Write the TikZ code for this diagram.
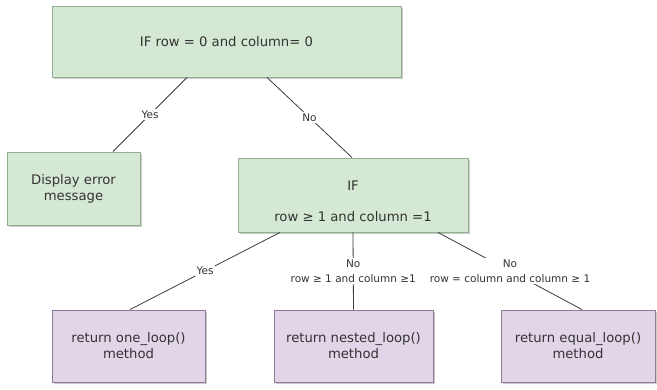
\documentclass[tikz,border=0pt]{standalone}
\usepackage{fontspec}
\setmainfont{DejaVu Sans}
\usetikzlibrary{shadows}
\definecolor{greenfill}{HTML}{D5E8D4}
\definecolor{greenline}{HTML}{93AE91}
\definecolor{purplefill}{HTML}{E1D5E7}
\definecolor{purpleline}{HTML}{8E7A99}
\definecolor{inkgray}{HTML}{333333}
\definecolor{wiregray}{HTML}{3C3C3C}
\begin{document}
\begin{tikzpicture}[x=1pt,y=-1pt,
  box/.style={draw, line width=0.9pt, align=center, text=inkgray,
    font=\fontsize{13.2}{16}\selectfont, inner sep=2pt,
    drop shadow={shadow xshift=1.6pt, shadow yshift=-1.8pt, fill=black!45, opacity=0.45}},
  decision/.style={box, fill=greenfill, draw=greenline},
  outcome/.style={box, fill=purplefill, draw=purpleline},
  wire/.style={draw=wiregray, line width=0.8pt},
  lbl/.style={fill=white, text=inkgray, inner sep=1.2pt, align=center,
    font=\fontsize{10.5}{15.5}\selectfont}]
\useasboundingbox (0,0) rectangle (657,389);

% decision and result boxes
\node[decision, minimum width=349pt, minimum height=71pt] (top) at (226.5,41.5)
  {IF row = 0 and column= 0};
\node[decision, minimum width=133pt, minimum height=73pt] (disp) at (73.5,188.5)
  {Display error\\message};
\node[decision, minimum width=230pt, minimum height=74pt] (cond) at (353,195)
  {\rule{0pt}{23pt}IF\\[15pt]row ≥ 1 and column =1};
\node[outcome, minimum width=153pt, minimum height=72pt] (one) at (128.5,346)
  {return one\_loop()\\method};
\node[outcome, minimum width=159pt, minimum height=72pt] (nested) at (353.5,346)
  {return nested\_loop()\\method};
\node[outcome, minimum width=154pt, minimum height=72pt] (equal) at (578,346)
  {return equal\_loop()\\method};

% branches
\draw[wire] ([xshift=-39.5pt]top.south) -- node[lbl]{Yes} ([xshift=39.5pt]disp.north);
\draw[wire] ([xshift=40.5pt]top.south) -- node[lbl]{No} ([xshift=-1pt]cond.north);
\draw[wire] ([xshift=-73pt]cond.south) -- node[lbl]{Yes} ([xshift=1.5pt]one.north);
\draw[wire] (cond.south) -- node[lbl]{No\\row ≥ 1 and column ≥1} (nested.north);
\draw[wire] ([xshift=85pt]cond.south) -- node[lbl, pos=0.5]{No\\row = column and column ≥ 1} ([xshift=4pt]equal.north);
\end{tikzpicture}
\end{document}
